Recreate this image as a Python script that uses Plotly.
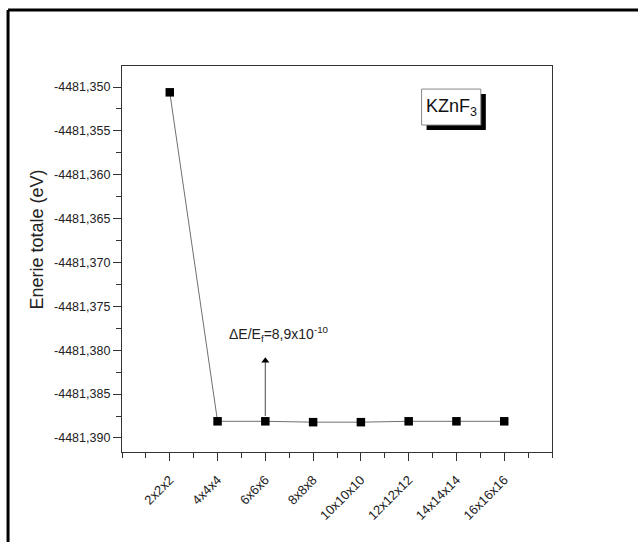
import plotly.graph_objects as go

# k-point meshes and total energies
kpoints = ["2x2x2", "4x4x4", "6x6x6", "8x8x8", "10x10x10", "12x12x12", "14x14x14", "16x16x16"]
energies = [-4481.3506, -4481.3881, -4481.3881, -4481.3882, -4481.3882, -4481.3881, -4481.3881, -4481.3881]
xpos = list(range(1, len(kpoints) + 1))

# energy axis ticks
y_ticks = [-4481.350, -4481.355, -4481.360, -4481.365, -4481.370,
           -4481.375, -4481.380, -4481.385, -4481.390]
y_ticktext = [f"{v:.3f}".replace(".", ",") for v in y_ticks]

FONT = "Liberation Sans, Arial, sans-serif"

fig = go.Figure()
fig.add_trace(go.Scatter(
    x=xpos, y=energies, mode="lines+markers",
    line=dict(color="#707070", width=1),
    marker=dict(symbol="square", size=8.5, color="black"),
    showlegend=False,
))

# arrow marking the convergence criterion above the 6x6x6 point
arrow_top = -4481.3808
fig.add_trace(go.Scatter(
    x=[xpos[2], xpos[2]], y=[energies[2] + 0.0006, arrow_top - 0.0004], mode="lines",
    line=dict(color="#666", width=1.2), showlegend=False, hoverinfo="skip",
))
fig.add_trace(go.Scatter(
    x=[xpos[2]], y=[arrow_top - 0.0004], mode="markers",
    marker=dict(symbol="triangle-up", size=7, color="black"),
    showlegend=False, hoverinfo="skip",
))

axis_common = dict(
    showline=True, linecolor="#333", linewidth=1.3, mirror=True,
    showgrid=False, zeroline=False, ticks="outside", tickcolor="#333",
    tickwidth=1.2, ticklen=8,
)

fig.update_xaxes(
    **axis_common,
    range=[0, 9], tickvals=xpos, ticktext=kpoints, tickangle=-45,
    tickfont=dict(family=FONT, size=13, color="#222"),
    minor=dict(ticks="outside", ticklen=5, tickcolor="#333", dtick=0.5, tick0=0, showgrid=False),
    ticklabelstandoff=6,
)
fig.update_yaxes(
    **axis_common,
    range=[-4481.3916, -4481.3476], tickvals=y_ticks, ticktext=y_ticktext,
    tickfont=dict(family=FONT, size=12.5, color="#222"),
    minor=dict(ticks="outside", ticklen=5, tickcolor="#333", dtick=0.0025,
               tick0=-4481.390, showgrid=False),
)

# energy axis title
fig.add_annotation(xref="paper", yref="paper", x=-0.198, y=0.55, textangle=-90,
                   xanchor="center", yanchor="middle",
                   showarrow=False, text="Enerie totale (eV)",
                   font=dict(family=FONT, size=18, color="#222"))

fig.add_annotation(x=2.2, y=-4481.3781, xanchor="left", yanchor="middle", showarrow=False,
                   text="ΔE/E<sub>f</sub>=8,9x10<sup>-10</sup>",
                   font=dict(family=FONT, size=14, color="#222"))

# compound label box with drop shadow
bx0, bx1 = 6.27, 7.51
by0, by1 = -4481.35433, -4481.35023
dx, dy = 0.105, 0.00057
fig.add_shape(type="rect", x0=bx0 + dx, x1=bx1 + dx, y0=by0 - dy, y1=by1 - dy,
              fillcolor="black", line=dict(width=0), layer="above")
fig.add_shape(type="rect", x0=bx0, x1=bx1, y0=by0, y1=by1,
              fillcolor="white", line=dict(color="#888", width=1), layer="above")
fig.add_annotation(x=(bx0 + bx1) / 2, y=(by0 + by1) / 2, showarrow=False,
                   text="KZnF<sub>3</sub>", font=dict(family=FONT, size=18, color="#111"))

# outer frame (left and top edges)
fig.add_shape(type="line", xref="paper", yref="paper", x0=-0.265, x1=-0.265, y0=-0.3, y1=1.145,
              line=dict(color="black", width=3))
fig.add_shape(type="line", xref="paper", yref="paper", x0=-0.265, x1=1.3, y0=1.145, y1=1.145,
              line=dict(color="black", width=3))

fig.update_layout(
    width=638, height=542,
    margin=dict(l=122, r=86, t=66, b=90),
    paper_bgcolor="white", plot_bgcolor="white",
    font=dict(family=FONT),
)

fig.write_html("out.html")
